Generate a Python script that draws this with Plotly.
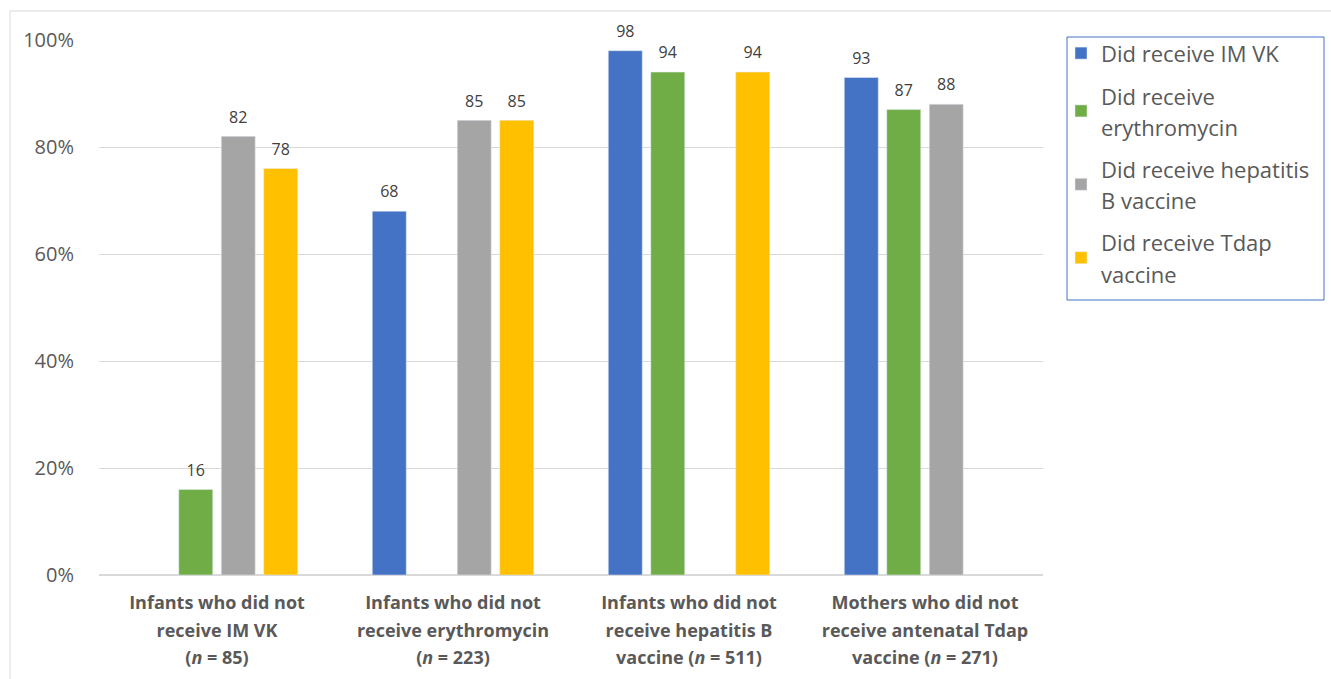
import plotly.graph_objects as go

categories = [
    "Infants who did not<br>receive IM VK<br>(<i>n</i> = 85)",
    "Infants who did not<br>receive erythromycin<br>(<i>n</i> = 223)",
    "Infants who did not<br>receive hepatitis B<br>vaccine (<i>n</i> = 511)",
    "Mothers who did not<br>receive antenatal Tdap<br>vaccine (<i>n</i> = 271)",
]
series_names = [
    "Did receive IM VK",
    "Did receive<br>erythromycin",
    "Did receive hepatitis<br>B vaccine",
    "Did receive Tdap<br>vaccine",
]
imvk = [None, 68, 98, 93]
erythro = [16, None, 94, 87]
hepb = [82, 85, None, 88]
tdap = [76, 85, 94, None]
imvk_lbl = ["", "68", "98", "93"]
erythro_lbl = ["16", "", "94", "87"]
hepb_lbl = ["82", "85", "", "88"]
tdap_lbl = ["78", "85", "94", ""]
colors = ["#4472C4", "#70AD47", "#A5A5A5", "#FFC000"]

FONT = "Open Sans"

cat_disp = ["<span style='font-size:18px'><b>" + c + "</b></span>" for c in categories]

fig = go.Figure()
for i, (name, vals, lbls, col) in enumerate(zip(series_names, [imvk, erythro, hepb, tdap],
                                 [imvk_lbl, erythro_lbl, hepb_lbl, tdap_lbl], colors)):
    fig.add_trace(go.Bar(
        x=cat_disp, y=vals, name="<span style='font-size:22px'>" + name + "</span>",
        marker_color=col, offsetgroup=str(i), legendgroup=name, hoverinfo="skip",
    ))
    fig.add_trace(go.Scatter(
        x=cat_disp, y=vals, text=lbls, mode="markers+text",
        textposition="top center", offsetgroup=str(i),
        marker=dict(size=14, opacity=0, color=col),
        textfont=dict(size=16, color="#404040", family=FONT),
        showlegend=False, cliponaxis=False, hoverinfo="skip",
    ))

L, R, T, B = 99, 1043, 40, 575
W, H = 1331, 679
pw, ph = R - L, B - T

def px(x):
    return (x - L) / pw

def py(y):
    return (B - y) / ph

# outer chart-area border (only left and top visible in the frame)
fig.add_shape(type="rect", xref="paper", yref="paper",
              x0=px(10), x1=px(1400), y0=py(760), y1=py(11),
              line=dict(color="#D9D9D9", width=1), layer="below")
# legend frame
fig.add_shape(type="rect", xref="paper", yref="paper",
              x0=px(1067), x1=px(1324), y0=py(300), y1=py(37),
              line=dict(color="#4472C4", width=1), layer="below")

fig.update_layout(
    width=W, height=H,
    margin=dict(l=L, r=W - R, t=T, b=H - B, pad=0, autoexpand=False),
    paper_bgcolor="white", plot_bgcolor="white",
    barmode="group", bargap=0.28, bargroupgap=0.2,
    scattermode="group", scattergap=0.28,
    font=dict(family=FONT, color="#595959"),
    legend=dict(
        x=px(1061), y=py(31), xanchor="left", yanchor="top",
        borderwidth=0, bgcolor="rgba(0,0,0,0)",
        font=dict(size=24, color="#595959", family=FONT),
        tracegroupgap=8, itemwidth=30,
    ),
    yaxis=dict(range=[0, 100], dtick=20, ticksuffix="%",
               gridcolor="#D9D9D9", zerolinecolor="#D9D9D9",
               tickfont=dict(size=20, color="#595959"),
               ticklabelstandoff=24, showline=False, automargin=False),
    xaxis=dict(tickfont=dict(size=21, color="#595959"),
               showline=True, linecolor="#D9D9D9", ticks="",
               ticklabelstandoff=8, automargin=False),
)

fig.write_html("out.html")
